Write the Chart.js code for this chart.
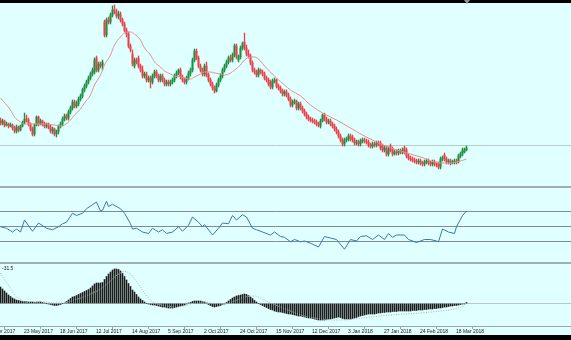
<!DOCTYPE html>
<html>
<head>
<meta charset="utf-8">
<script src="https://cdn.jsdelivr.net/npm/chart.js@4.4.0/dist/chart.umd.min.js"></script>
<style>
  body { margin: 0; background: #000; }
  #wrap { position: relative; width: 571px; height: 340px; overflow: hidden; background: #000; }
  .panel { position: absolute; left: 0; width: 571px; background: #e0ffff; overflow: hidden; }
  .panel canvas { position: absolute; left: -20px; top: 0; }
  .sep { position: absolute; left: 0; width: 571px; height: 2px; background: #9fb0b0; }
  #shift { position: absolute; top: 0; width: 0; height: 0;
           border-left: 3px solid transparent; border-right: 3px solid transparent; border-top: 4px solid #8a9494; }
</style>
</head>
<body>
<div id="wrap">
  <div class="panel" style="top:3px;height:183px"><canvas id="priceChart" width="591" height="183"></canvas></div>
  <div class="sep" style="top:186px"></div>
  <div class="panel" style="top:188px;height:74px"><canvas id="rsiChart" width="591" height="74"></canvas></div>
  <div class="sep" style="top:262px"></div>
  <div class="panel" style="top:264px;height:71px"><canvas id="macdChart" width="591" height="71"></canvas></div>
  <div id="shift"></div>
</div>
<script>
// daily candles, one per bar index
const opens = [70,67,69,65,66,64,65,62,59,63, 60,64,67,71,70,66,61,56,65,73,
  66,69,66,64,66,63,59,61,56,59, 64,66,71,74,72,78,82,88,84,86,
  91,94,100,104,108,112,116,118,132,120, 126,124,168,155,170,168,175,180,178,174,
  176,170,166,160,156,144,136,124,130,132, 124,120,114,116,110,112,108,114,118,114,
  110,114,110,106,108,106,108,110,114,117, 120,113,110,108,112,117,120,130,139,132,
  124,120,116,124,115,110,106,102,99,105, 110,114,120,124,128,132,130,135,144,130,
  133,142,148,142,136,134,127,120,118,115, 120,118,116,112,110,108,103,109,110,104,
  102,99,96,98,95,91,85,88,89,82, 86,82,79,76,73,71,70,69,68,66,
  64,69,75,71,68,69,66,64,61,58, 54,50,46,50,51,54,53,50,47,48,
  46,49,50,49,48,45,44,46,45,47, 47,44,40,42,36,44,41,36,38,37,
  39,38,42,40,34,32,31,30,29,28, 29,27,26,28,29,27,26,28,26,26,
  23,31,35,31,28,29,27,28,29,28, 34,36,38,40];
const highs = [72,71,70,68,67,67,66,64,65,64, 65,69,77,75,72,67,63,66,74,74,
  71,70,68,67,67,65,63,62,60,65, 68,73,76,76,80,84,90,90,89,93,
  96,102,106,110,114,118,122,132,134,128, 128,130,170,172,173,177,184,185,181,179,
  178,172,168,162,158,146,140,132,132,134, 126,124,118,118,114,114,116,120,120,116,
  116,116,112,110,110,110,112,116,119,121, 122,115,112,114,119,122,132,141,141,134,
  126,122,126,128,117,112,108,104,107,112, 116,122,126,130,134,135,137,146,146,135,
  144,148,157,145,140,136,129,122,120,122, 121,120,118,114,112,110,111,112,111,106,
  104,101,100,100,97,93,90,91,90,88, 88,84,81,78,75,73,72,71,70,68,
  71,76,77,73,71,71,68,66,63,60, 56,52,52,53,56,56,55,52,50,50,
  51,52,52,51,50,47,48,48,49,49, 49,46,44,44,43,46,43,40,40,41,
  41,42,44,42,36,34,33,32,31,31, 31,29,30,31,31,29,30,30,28,28,
  33,34,37,33,31,31,30,31,31,36, 38,42,42,44];
const lows = [65,65,63,64,62,63,60,57,57,58, 59,63,66,68,64,59,54,54,64,64,
  65,64,62,62,61,57,56,54,53,56, 62,64,69,70,70,76,80,82,82,84,
  89,92,98,102,106,110,114,116,118,118, 122,120,153,153,166,166,173,176,172,171,
  168,164,158,153,142,138,124,122,126,122, 118,112,112,108,108,102,106,112,112,108,
  108,108,104,104,104,104,106,108,112,115, 111,108,106,106,110,114,118,128,130,122,
  118,114,114,113,108,104,100,97,98,103, 108,112,118,122,126,128,128,133,131,128,
  131,140,140,134,132,125,118,116,113,113, 116,114,110,108,104,101,101,107,102,100,
  97,94,94,93,89,83,83,86,80,80, 80,77,74,71,69,68,67,66,64,63,
  62,68,69,66,66,64,62,59,56,52, 48,44,44,48,49,49,48,45,45,44,
  44,47,47,46,43,42,42,43,43,44, 40,38,38,34,34,38,34,35,35,35,
  36,36,36,32,30,29,28,27,26,26, 25,24,24,26,25,24,24,24,23,21,
  21,29,29,26,26,25,26,26,26,27, 32,34,37,39];
const closes = [67,69,65,66,64,65,62,59,63,60, 64,67,71,70,66,61,56,65,73,66,
  69,66,64,66,63,59,61,56,59,64, 66,71,74,72,78,82,88,84,86,91,
  94,100,104,108,112,116,120,130,120,126, 124,128,155,170,168,175,180,178,174,176,
  170,166,160,156,144,140,126,130,128,124, 120,114,116,110,112,108,114,118,114,110,
  114,110,106,108,106,108,110,114,117,120, 113,110,108,112,117,120,130,139,132,124,
  120,116,124,115,110,106,102,99,105,110, 114,120,124,128,132,130,135,144,133,133,
  142,146,142,136,134,127,120,118,115,120, 118,116,112,110,106,103,109,110,104,102,
  99,96,98,95,91,85,88,89,82,86, 82,79,76,73,71,70,69,68,66,65,
  69,75,71,68,69,66,64,61,58,54, 50,46,50,51,54,51,50,47,48,46,
  49,50,49,48,45,44,46,45,47,46, 42,40,42,36,41,40,36,38,37,39,
  38,40,38,34,32,31,30,29,28,29, 27,26,28,29,27,26,28,26,25,23,
  31,32,31,28,29,27,28,29,28,34, 36,40,40,42];
const levelPrice = 45;

// moving average, read at these bar indices
const maIdx = [0,5,7,10,12,17,22,27,30,32,35,37,40,42,45,47,50,52,55,57,60,62,65,67,70,72,75,77,80,82,
  85,87,90,92,95,97,100,102,105,107,110,112,115,117,120,122,125,127,130,132,135,138,142,145,150,155,161,165,168,175,
  181,185,190,200,210,220,225,230,233];
const maVal = [92,80,73,68,66,66,66,65,64,65,70,75,81,87,95,105,115,125,135,145,153,157,158,156,150,142,135,128,123,119,
  116,114,113,112,111,113,116,118,118,117,116,115,117,120,125,130,133,133,129,124,118,112,105,100,94,85,77,73,70,62,
  55,51,46,39,33,27,27,29,31];

// RSI
const rsiIdx = [0,3,6,8,10,12,16,19,23,26,29,31,33,36,38,41,43,48,50,51,53,54,56,60,62,65,66,68,71,74,
  76,79,81,83,86,89,91,94,96,99,101,102,106,109,111,114,116,118,121,123,126,128,131,135,137,140,142,145,147,150,
  152,155,159,162,165,168,172,175,178,180,183,186,189,192,194,196,198,202,204,208,212,215,218,219,221,224,227,228,231,233];
const rsiVal = [49,47,42,46,42,58,43,54,47,45,49,53,55,67,64,67,73,82,70,71,83,76,79,73,67,53,46,47,42,40,
  47,42,45,40,42,49,43,51,62,55,49,52,38,47,54,53,64,58,65,62,47,45,42,38,42,36,35,29,32,29,
  30,27,22,36,34,32,19,32,30,36,37,32,38,32,40,35,38,38,32,28,32,32,30,29,46,42,40,49,64,70];
const rsiLevels = [30, 50, 70];

// MACD histogram, one per bar
const macdHist = [16.5,14.5,12.5,10.5,8.5,7,5.5,4.5,3.5,3, 2.5,2,2,2,1.5,1.5,1.5,1,1.5,1.5,
  1.5,1,0.5,0,-0.5,-1,-1.5,-2,-2,-1.5, -1,0,0.5,2,3.5,5,6.5,7,8,9,
  10,11,12,13,14,15.5,17.5,19.5,20.5,20.5, 20.5,21,24,27,29.5,31.5,33.5,34.5,34.5,34,
  32.5,30,27,23.5,20,17,13.5,11.5,9,6.5, 4.5,3,1.5,0,-0.5,-1,-1.5,-1.5,-2,-2.5,
  -3,-3.5,-3.5,-4,-4.5,-4.5,-4.5,-4,-3.5,-3, -2.5,-2,-1.5,-0.5,0.5,1,2,2.5,2.5,2.5,
  2.5,2,1.5,0.5,-1,-2,-3,-3.5,-3,-2.5, -2,-1,-0.5,1,2.5,4,5.5,6.5,7.5,8,
  8.5,9,9.5,9,8,6.5,5,3,1.5,0, -1,-2,-3,-4,-5,-6,-6.5,-7.5,-8,-8.5,
  -8.5,-9,-9.5,-10,-10.5,-10.5,-11,-11.5,-12,-12.5, -12.5,-13,-13.5,-14,-14.5,-14.5,-15,-15.5,-16,-16.5,
  -16.5,-16.5,-16.5,-16,-15.5,-15.5,-15,-14.5,-14,-13.5, -14,-15,-15.5,-15.5,-15.5,-15.5,-15,-14.5,-14,-13,
  -12.5,-12,-11.5,-11,-10.5,-10.5,-10.5,-10.5,-10,-9.5, -9.5,-9,-9,-8.5,-8.5,-8.5,-8,-8,-8,-7.5,
  -7.5,-7.5,-7.5,-7.5,-7.5,-7.5,-7,-7,-7,-6.5, -6.5,-6.5,-6,-6,-5.5,-5.5,-5.5,-5,-5,-4.5,
  -4.5,-4,-3.5,-3.5,-3,-2.5,-2.5,-2,-2,-1.5, -1,-0.5,-0.5,1];
// signal line, read at these bar indices
const sigIdx = [0,2,5,7,10,12,17,22,27,32,35,40,45,50,52,55,57,60,62,65,67,70,72,75,77,82,87,92,97,102,
  107,112,117,122,127,130,135,140,145,150,157,165,172,177,185,195,210,220,227,232];
const sigVal = [30.5,23.5,15.5,8.5,4.5,1.5,1.5,1.5,0.5,0.5,2.5,5.5,9.5,14.5,17.5,22.5,26.5,30.5,32,29.5,
  24.5,16.5,10.5,3.5,0.5,-2,-3.5,-2.5,0.5,1.5,0,-0.5,2.5,6.5,7.5,5.5,0.5,-3.5,-7.5,-11.5,
  -14.5,-16.5,-16.5,-15.5,-13.5,-11.5,-9.5,-7.5,-5.5,-2.5];
const macdLabel = '-31.5';

// date axis
const tickIdx = [-7,11,29,47,65,83,101,119,137,155,173,191,209,227];
const tickLabels = ['27 Apr 2017','23 May 2017','18 Jun 2017','12 Jul 2017','14 Aug 2017','5 Sep 2017','2 Oct 2017',
  '24 Oct 2017','15 Nov 2017','12 Dec 2017','3 Jan 2018','27 Jan 2018','24 Feb 2018','18 Mar 2018'];

const xMin = -10.25, xMax = 285.25;
const bull = '#1f8f3f', bear = '#e8414c';
const candleColors = closes.map((c, i) => c >= opens[i] ? bull : bear);

const baseOpts = {
  responsive: false,
  animation: false,
  events: [],
  layout: { padding: 0 },
  plugins: { legend: { display: false }, tooltip: { enabled: false } }
};

function levelAxis(min, max, levels, color) {
  return {
    min: min, max: max,
    afterBuildTicks: s => { s.ticks = levels.map(v => ({ value: v })); },
    afterFit: s => { s.width = 0; },
    ticks: { display: false },
    border: { display: false },
    grid: { color: color, lineWidth: 1, drawTicks: false }
  };
}

const priceChart = new Chart(document.getElementById('priceChart'), {
  type: 'bar',
  data: {
    datasets: [
      {
        type: 'line',
        data: maIdx.map((x, k) => ({ x: x, y: maVal[k] })),
        borderColor: '#e39090', borderWidth: 1, pointRadius: 0,
        cubicInterpolationMode: 'monotone'
      },
      {
        data: opens.map((o, i) => ({ x: i, y: [o, closes[i]] })),
        backgroundColor: candleColors, barThickness: 1.3, grouped: false
      },
      {
        data: lows.map((l, i) => ({ x: i, y: [l, highs[i]] })),
        backgroundColor: candleColors, barThickness: 0.7, grouped: false
      }
    ]
  },
  options: Object.assign({}, baseOpts, {
    scales: {
      x: { type: 'linear', min: xMin, max: xMax, offset: false, display: false },
      y: levelAxis(4, 187, [levelPrice], '#bccaca')
    }
  })
});

new Chart(document.getElementById('rsiChart'), {
  type: 'line',
  data: {
    datasets: [{
      data: rsiIdx.map((x, k) => ({ x: x, y: rsiVal[k] })),
      borderColor: '#3d74bd', borderWidth: 1, pointRadius: 0, tension: 0
    }]
  },
  options: Object.assign({}, baseOpts, {
    scales: {
      x: { type: 'linear', min: xMin, max: xMax, offset: false, display: false },
      y: levelAxis(2, 100.67, rsiLevels, '#7f8d8d')
    }
  })
});

const macdLabelPlugin = {
  id: 'macdLabel',
  afterDraw(chart) {
    const ctx = chart.ctx;
    ctx.save();
    ctx.font = '5px "Liberation Sans"';
    ctx.fillStyle = '#222';
    ctx.textBaseline = 'top';
    ctx.fillText(macdLabel, chart.chartArea.left + 22, chart.chartArea.top + 2);
    ctx.restore();
  }
};

new Chart(document.getElementById('macdChart'), {
  type: 'bar',
  data: {
    datasets: [
      {
        type: 'line',
        data: sigIdx.map((x, k) => ({ x: x, y: sigVal[k] })),
        borderColor: '#a9b3b3', borderWidth: 1, borderDash: [1, 1.5], pointRadius: 0,
        cubicInterpolationMode: 'monotone'
      },
      {
        data: macdHist.map((v, i) => ({ x: i, y: v })),
        backgroundColor: '#1c1c1c', barThickness: 1
      }
    ]
  },
  options: Object.assign({}, baseOpts, {
    scales: {
      x: {
        type: 'linear', min: xMin, max: xMax, offset: false, position: 'bottom',
        afterBuildTicks: s => { s.ticks = tickIdx.map(v => ({ value: v })); },
        afterFit: s => { s.height = 9; },
        border: { display: true, color: '#9aa6a6', width: 1 },
        grid: { drawOnChartArea: false, drawTicks: true, tickLength: 3, color: '#9aa6a6' },
        ticks: {
          callback: (v, i) => tickLabels[i],
          font: { family: 'Liberation Sans', size: 5 }, color: '#222',
          align: 'start', labelOffset: 1.5, padding: 0,
          maxRotation: 0, minRotation: 0, autoSkip: false
        }
      },
      y: levelAxis(-22.5, 39.5, [0], '#b9c7c7')
    }
  }),
  plugins: [macdLabelPlugin]
});

// chart shift marker above the last bar
const lastPx = priceChart.scales.x.getPixelForValue(opens.length - 1) - 20;
document.getElementById('shift').style.left = (lastPx - 3) + 'px';
</script>
</body>
</html>
